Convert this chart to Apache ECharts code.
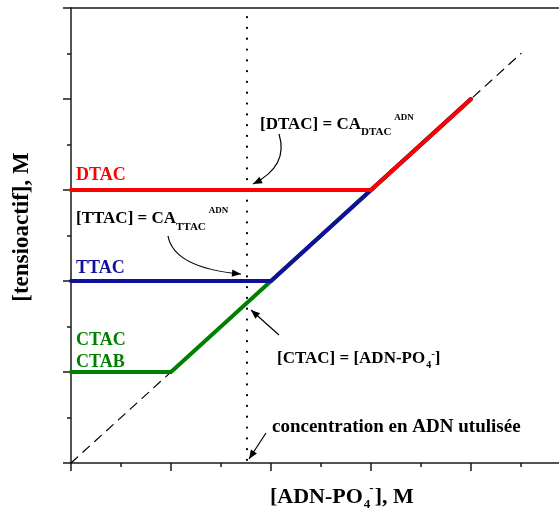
<!DOCTYPE html>
<html>
<head>
<meta charset="utf-8">
<script src="https://cdn.jsdelivr.net/npm/echarts@6/dist/echarts.min.js"></script>
<style>html,body{margin:0;padding:0;background:#fff;overflow:hidden;width:559px;height:516px}#c{width:571px;height:516px}</style>
</head>
<body>
<div id="c"></div>
<script>
// ---- data (axis units: one major tick = 1) ----
const refX = [0, 4.5];          // dashed y = x reference
const refY = [0, 4.5];
const ctacX = [0, 1, 4];        // CTAC / CTAB
const ctacY = [1, 1, 4];
const ttacX = [0, 2, 4];        // TTAC
const ttacY = [2, 2, 4];
const dtacX = [0, 3, 4];        // DTAC
const dtacY = [3, 3, 4];
const adnX = [1.76, 1.76];      // DNA concentration used (dotted)
const adnY = [4.9, 0];
const xRange = [0, 5];
const yRange = [0, 5];

const zip = (xs, ys) => xs.map((x, i) => [x, ys[i]]);
const SERIF = '"Liberation Serif", "Times New Roman", serif';
const RED = '#ff0000', BLUE = '#10109a', GREEN = '#008000';

const chart = echarts.init(document.getElementById('c'));

const mctx = document.createElement('canvas').getContext('2d');
const graphics = [];
function richText(x, yc, parts) {
  let cx = x;
  parts.forEach(p => {
    const font = `bold ${p.size}px ${SERIF}`;
    mctx.font = font;
    const w = mctx.measureText(p.t).width;
    graphics.push({
      type: 'text', x: cx, y: yc + (p.dy || 0), z: 100,
      style: { text: p.t, font: font, fill: p.color || '#000', align: 'left', verticalAlign: 'middle' }
    });
    cx += w + (p.gap || 0);
  });
}
function arrowHead(tip, from) {
  const dx = tip[0] - from[0], dy = tip[1] - from[1];
  const L = Math.hypot(dx, dy), ux = dx / L, uy = dy / L;
  const len = 9, hw = 3.6;
  const bx = tip[0] - ux * len, by = tip[1] - uy * len;
  graphics.push({
    type: 'polygon', z: 100,
    shape: { points: [tip, [bx - uy * hw, by + ux * hw], [bx + uy * hw, by - ux * hw]] },
    style: { fill: '#000' }
  });
}
function curveArrow(p1, cp, p2) {
  graphics.push({
    type: 'bezierCurve', z: 100,
    shape: { x1: p1[0], y1: p1[1], cpx1: cp[0], cpy1: cp[1], x2: p2[0], y2: p2[1] },
    style: { stroke: '#000', lineWidth: 1.2, fill: null }
  });
  arrowHead(p2, cp);
}
function lineArrow(p1, p2) {
  graphics.push({
    type: 'line', z: 100,
    shape: { x1: p1[0], y1: p1[1], x2: p2[0], y2: p2[1] },
    style: { stroke: '#000', lineWidth: 1.2 }
  });
  arrowHead(p2, p1);
}

// labels
richText(76, 175, [{ t: 'DTAC', size: 18, color: RED }]);
richText(76, 268, [{ t: 'TTAC', size: 18, color: BLUE }]);
richText(76, 340, [{ t: 'CTAC', size: 18, color: GREEN }]);
richText(76, 362, [{ t: 'CTAB', size: 18, color: GREEN }]);
richText(260, 124.5, [
  { t: '[DTAC] = CA', size: 17 },
  { t: 'DTAC', size: 11, dy: 8, gap: 3 },
  { t: 'ADN', size: 9, dy: -7 }
]);
richText(76, 219, [
  { t: '[TTAC] = CA', size: 17 },
  { t: 'TTAC', size: 11, dy: 8, gap: 3 },
  { t: 'ADN', size: 9, dy: -8 }
]);
richText(277, 359, [
  { t: '[CTAC] = [ADN-PO', size: 17, gap: 1 },
  { t: '4', size: 10, dy: 6, gap: 0 },
  { t: '-', size: 11, dy: -5 },
  { t: ']', size: 17 }
]);
richText(272, 427, [{ t: 'concentration en ADN utulisée', size: 19 }]);
// axis titles
richText(270, 497, [
  { t: '[ADN-PO', size: 22, gap: 1 },
  { t: '4', size: 13, dy: 8, gap: -1 },
  { t: '-', size: 13, dy: -8, gap: 1 },
  { t: '], M', size: 22 }
]);
graphics.push({
  type: 'text', x: 22, y: 227, rotation: Math.PI / 2, z: 100,
  style: { text: '[tensioactif], M', font: `bold 23px ${SERIF}`, fill: '#000', align: 'center', verticalAlign: 'middle' }
});

// arrows
curveArrow([279, 134], [289, 166], [253, 184]);
curveArrow([168, 236], [174, 268], [241, 274]);
lineArrow([279, 335], [251, 310]);
lineArrow([266, 433], [249, 459]);

const axisCommon = {
  type: 'value', min: 0, max: 5, interval: 1,
  axisLine: { show: true, onZero: false, lineStyle: { color: '#1a1a1a', width: 1.5 } },
  axisTick: { show: true, inside: false, length: 8, lineStyle: { color: '#1a1a1a', width: 1.5 } },
  minorTick: { show: true, splitNumber: 2, length: 4, lineStyle: { color: '#1a1a1a', width: 1.5 } },
  axisLabel: { show: false },
  splitLine: { show: false },
  minorSplitLine: { show: false }
};

const line = (name, data, color, width, type, z) => ({
  name, type: 'line', data, showSymbol: false, symbol: 'none', z,
  lineStyle: { color, width, type, cap: 'round', join: 'round' },
  silent: true, animation: false
});

chart.setOption({
  animation: false,
  backgroundColor: '#fff',
  grid: { left: 71, right: 0, top: 8, bottom: 53 },
  xAxis: [
    Object.assign({}, axisCommon, { min: xRange[0], max: xRange[1], position: 'bottom' }),
    Object.assign({}, axisCommon, { min: xRange[0], max: xRange[1], position: 'top',
      axisTick: { show: false }, minorTick: { show: false } })
  ],
  yAxis: [
    Object.assign({}, axisCommon, { min: yRange[0], max: yRange[1], position: 'left' })
  ],
  series: [
    line('ref', zip(refX, refY), '#000', 1.2, [9, 7], 1),
    line('adn', zip(adnX, adnY), '#000', 2.2, [0.1, 10.7], 2),
    line('CTAC', zip(ctacX, ctacY), GREEN, 4, 'solid', 3),
    line('TTAC', zip(ttacX, ttacY), BLUE, 4, 'solid', 4),
    line('DTAC', zip(dtacX, dtacY), RED, 4, 'solid', 5)
  ],
  graphic: graphics
});
</script>
</body>
</html>
